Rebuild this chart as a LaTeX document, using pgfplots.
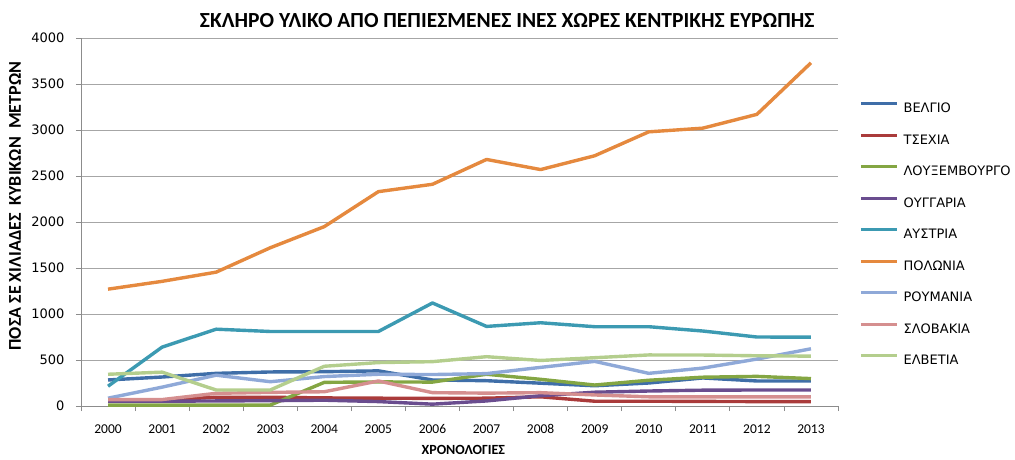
\documentclass[border=0pt]{standalone}
\usepackage{fontspec}
\setmainfont{Carlito}[BoldFont={Carlito Bold}]
\newfontfamily\dv{DejaVu Sans}
\usepackage{pgfplots}
\pgfplotsset{compat=1.18}
\definecolor{cBE}{HTML}{3F6EA8}
\definecolor{cCZ}{HTML}{AA3B3B}
\definecolor{cLU}{HTML}{84A643}
\definecolor{cHU}{HTML}{6A4D8F}
\definecolor{cAT}{HTML}{3C9AB2}
\definecolor{cPL}{HTML}{E5893E}
\definecolor{cRO}{HTML}{8FA9D8}
\definecolor{cSK}{HTML}{D58F8F}
\definecolor{cCH}{HTML}{B4CE8D}
\definecolor{gridc}{HTML}{A6A6A6}
\definecolor{axc}{HTML}{8C8C8C}
\begin{document}
\begin{tikzpicture}
\begin{axis}[
  scale only axis, width=757pt, height=368pt,
  xmin=-0.5, xmax=13.5, ymin=0, ymax=4000,
  axis lines*=left,
  axis line style={-, draw=axc, line width=0.8pt},
  /pgf/number format/assume math mode=true,
  /pgf/number format/1000 sep={},
  xtick={-0.5,0.5,...,13.5},
  xticklabels={2000,2001,2002,2003,2004,2005,2006,2007,2008,2009,2010,2011,2012,2013,{}},
  xticklabel style={xshift=27.04pt, font=\fontsize{13.5}{14}\selectfont, yshift=-10pt},
  ytick={0,500,...,4000},
  yticklabel style={font=\dv\fontsize{13}{14}\selectfont, xshift=-8pt},
  tick align=outside, major tick length=5pt,
  tick style={draw=axc, line width=0.8pt},
  ymajorgrids, grid style={draw=gridc, line width=0.9pt},
  title={\bfseries ΣΚΛΗΡΟ ΥΛΙΚΟ ΑΠΌ ΠΕΠΙΕΣΜΕΝΕΣ ΙΝΕΣ ΧΩΡΕΣ ΚΕΝΤΡΙΚΗΣ ΕΥΡΩΠΗΣ},
  title style={at={(axis description cs:0.563,1)}, yshift=11pt, anchor=center, font=\fontsize{21.5}{23}\selectfont},
  xlabel={\bfseries ΧΡΟΝΟΛΟΓΙΕΣ},
  every axis x label/.style={at={(axis description cs:0.505,0)}, yshift=-44pt, anchor=center, font=\fontsize{14}{15}\selectfont},
  ylabel={\bfseries ΠΟΣΑ ΣΕ ΧΙΛΙΑΔΕΣ\ \ ΚΥΒΙΚΩΝ\ \ ΜΕΤΡΩΝ},
  every axis y label/.style={at={(axis description cs:0,0.543)}, xshift=-66pt, rotate=90, anchor=center, font=\fontsize{18}{19}\selectfont},
  legend style={at={(axis description cs:1.028,0.469)}, anchor=west, draw=none, fill=none,
    inner sep=0pt, outer sep=0pt,
    font=\dv\fontsize{13}{14}\selectfont, row sep=20.8pt, column sep=5pt,
    nodes={inner sep=0pt, text height=9pt, text depth=0pt}},
  legend cell align=left,
  legend image code/.code={\draw[#1] (0pt,4.5pt) -- (36pt,4.5pt);},
  every axis plot/.append style={line width=3.4pt, line join=round, no markers},
]
\addplot[cBE] coordinates {(0,283)(1,315)(2,355)(3,370)(4,373)(5,382)(6,283)(7,275)(8,248)(9,220)(10,250)(11,305)(12,272)(13,272)};
\addplot[cCZ] coordinates {(0,65)(1,65)(2,95)(3,95)(4,88)(5,85)(6,83)(7,85)(8,100)(9,52)(10,52)(11,50)(12,48)(13,47)};
\addplot[cLU] coordinates {(0,10)(1,10)(2,10)(3,10)(4,257)(5,262)(6,260)(7,345)(8,290)(9,228)(10,280)(11,313)(12,322)(13,298)};
\addplot[cHU] coordinates {(0,52)(1,52)(2,55)(3,58)(4,63)(5,48)(6,20)(7,55)(8,112)(9,150)(10,163)(11,172)(12,174)(13,174)};
\addplot[cAT] coordinates {(0,215)(1,640)(2,835)(3,810)(4,810)(5,810)(6,1120)(7,865)(8,905)(9,862)(10,862)(11,815)(12,750)(13,748)};
\addplot[cPL] coordinates {(0,1270)(1,1355)(2,1455)(3,1720)(4,1950)(5,2330)(6,2410)(7,2680)(8,2570)(9,2720)(10,2980)(11,3020)(12,3170)(13,3730)};
\addplot[cRO] coordinates {(0,85)(1,205)(2,335)(3,264)(4,320)(5,345)(6,342)(7,352)(8,420)(9,485)(10,355)(11,412)(12,510)(13,622)};
\addplot[cSK] coordinates {(0,70)(1,70)(2,138)(3,148)(4,155)(5,272)(6,145)(7,140)(8,145)(9,120)(10,100)(11,100)(12,100)(13,100)};
\addplot[cCH] coordinates {(0,345)(1,368)(2,174)(3,174)(4,432)(5,472)(6,482)(7,536)(8,495)(9,525)(10,555)(11,554)(12,546)(13,542)};
\legend{ΒΕΛΓΙΟ,ΤΣΕΧΙΑ,ΛΟΥΞΕΜΒΟΥΡΓΟ,ΟΥΓΓΑΡΙΑ,ΑΥΣΤΡΙΑ,ΠΟΛΩΝΙΑ,ΡΟΥΜΑΝΙΑ,ΣΛΟΒΑΚΙΑ,ΕΛΒΕΤΙΑ}
\end{axis}
\pgfresetboundingbox
\path (-81pt,-53pt) rectangle (934pt,406pt);
\end{tikzpicture}
\end{document}
